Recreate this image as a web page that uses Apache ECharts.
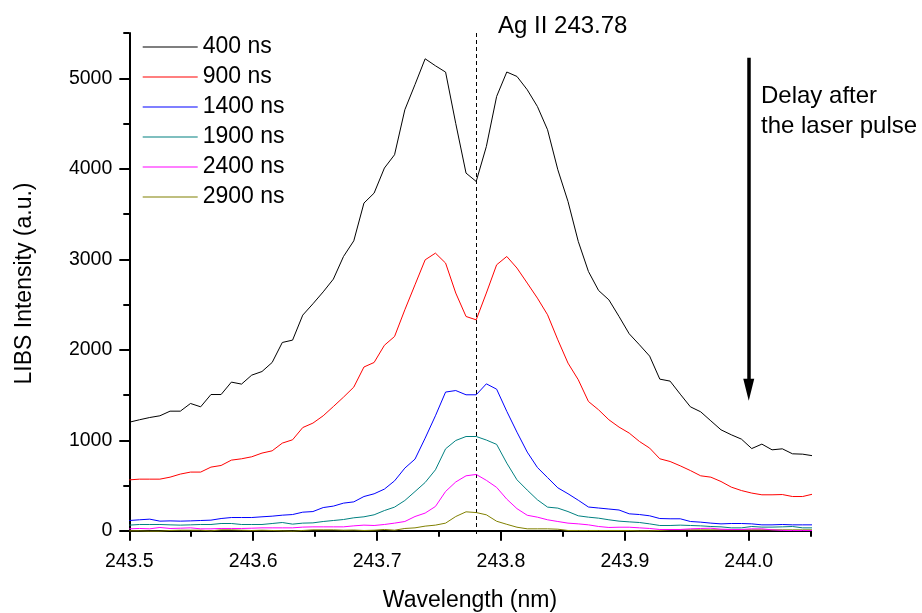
<!DOCTYPE html>
<html>
<head>
<meta charset="utf-8">
<script src="https://cdn.jsdelivr.net/npm/echarts@6/dist/echarts.min.js"></script>
<style>
html,body{margin:0;padding:0;background:#fff;}
#chart{width:922px;height:613px;}
</style>
</head>
<body>
<div id="chart"></div>
<script>
const wavelengths = [
243.5000,243.5082,243.5165,243.5247,243.5329,243.5412,243.5494,243.5576,243.5659,243.5741,
243.5824,243.5906,243.5988,243.6071,243.6153,243.6235,243.6318,243.6400,243.6482,243.6565,
243.6647,243.6729,243.6812,243.6894,243.6976,243.7059,243.7141,243.7224,243.7306,243.7388,
243.7471,243.7553,243.7635,243.7718,243.7800,243.7882,243.7965,243.8047,243.8129,243.8212,
243.8294,243.8376,243.8459,243.8541,243.8624,243.8706,243.8788,243.8871,243.8953,243.9035,
243.9118,243.9200,243.9282,243.9365,243.9447,243.9529,243.9612,243.9694,243.9776,243.9859,
243.9941,244.0024,244.0106,244.0188,244.0271,244.0353,244.0435,244.0518
];
const delays = ['400 ns','900 ns','1400 ns','1900 ns','2400 ns','2900 ns'];
const int400 = [
1200,1227,1252,1271,1322,1322,1407,1370,1506,1506,
1643,1621,1720,1760,1860,2081,2107,2383,2508,2640,
2781,3031,3204,3621,3731,4008,4155,4652,4930,5215,
5138,5068,4500,3952,3860,4246,4799,5069,5020,4873,
4688,4431,3989,3639,3197,2865,2655,2552,2368,2177,
2055,1930,1676,1654,1510,1370,1315,1215,1116,1061,
1013,909,958,895,906,851,847,829
];
const int900 = [
563,571,571,571,593,627,649,649,704,722,
781,796,818,859,884,969,1006,1141,1190,1271,
1373,1477,1588,1810,1860,2050,2147,2442,2718,2994,
3068,2958,2627,2368,2331,2627,2939,3031,2903,2737,
2571,2387,2110,1853,1669,1429,1337,1227,1146,1080,
987,914,796,766,718,666,608,593,545,483,
445,417,398,398,401,379,379,406
];
const int1400 = [
114,122,129,107,110,107,110,114,118,136,
147,147,147,155,162,173,180,206,213,257,
273,306,320,379,409,461,552,693,792,1024,
1271,1533,1550,1503,1503,1624,1565,1320,1090,870,
700,588,475,410,338,263,252,241,230,188,
180,166,136,133,133,103,96,85,77,81,
81,77,66,66,70,66,66,66
];
const int1900 = [
63,70,70,70,66,63,66,70,70,81,
81,70,70,70,81,92,74,85,88,103,
114,125,144,155,177,224,262,335,434,534,
674,906,998,1042,1042,1003,955,748,564,450,
343,262,251,213,166,151,140,122,107,99,
92,77,59,59,63,59,55,48,44,33,
33,48,41,41,44,48,33,33
];
const int2400 = [
22,26,22,37,26,29,33,22,22,26,
26,26,29,33,33,33,33,41,44,44,
44,44,55,63,59,70,85,103,158,196,
269,435,540,608,623,558,480,350,245,172,
151,122,103,85,77,66,48,37,40,40,
33,26,15,15,15,22,26,29,18,15,
15,22,22,11,5,3,3,3
];
const int2900 = [
0,0,-4,-4,4,7,7,7,0,11,
11,7,4,7,4,0,-4,4,11,11,
11,7,9,4,7,15,7,26,33,52,
63,85,158,210,202,177,106,72,40,22,
22,22,18,4,4,4,4,4,4,4,
0,0,4,11,11,11,11,11,11,11,
11,11,11,11,11,11,11,11
];
const xTicks = [243.5,243.6,243.7,243.8,243.9,244.0];
const xMinorTicks = [243.55,243.65,243.75,243.85,243.95,244.05];
const yTicks = [0,1000,2000,3000,4000,5000];
const yMinorTicks = [500,1500,2500,3500,4500,5500];
const lineWavelength = 243.78;
const lineLabel = 'Ag II 243.78';
const arrowX = 244.0;
const arrowFrom = 5227;
const arrowTo = 1560;
const noteLines = ['Delay after', 'the laser pulse'];

const colors = ['#000000','#ff0000','#0000ff','#008080','#ff00ff','#808000'];
const allSeries = [int400,int900,int1400,int1900,int2400,int2900];
const FONT = "'Liberation Sans', Arial, sans-serif";

const chart = echarts.init(document.getElementById('chart'), null, {renderer:'canvas'});

const series = allSeries.map((vals, k) => ({
  name: delays[k],
  type: 'line',
  xAxisIndex: 0,
  yAxisIndex: 0,
  data: wavelengths.map((x, i) => [x, vals[i]]),
  showSymbol: false,
  symbol: 'none',
  lineStyle: {color: colors[k], width: 1},
  itemStyle: {color: colors[k]},
  z: 10 - k,
  silent: true
}));

series[0].markLine = {
  silent: true,
  symbol: ['none','none'],
  label: {show: false},
  lineStyle: {color: '#000', type: [4, 3], width: 1},
  data: [[{coord: [lineWavelength, -35]}, {coord: [lineWavelength, 5500]}]]
};
series[1].markLine = {
  silent: true,
  symbol: ['none','triangle'],
  symbolSize: [11, 22],
  label: {show: false},
  lineStyle: {color: '#000', type: 'solid', width: 3.5},
  itemStyle: {color: '#000'},
  data: [[{coord: [arrowX, arrowFrom]}, {coord: [arrowX, arrowTo]}]]
};

const axisCommon = {
  axisLine: {show: true, lineStyle: {color: '#000', width: 2}},
  splitLine: {show: false}
};

const option = {
  animation: false,
  backgroundColor: '#fff',
  grid: {left: 129.3, right: 111.3, top: 33, bottom: 79, containLabel: false, outerBoundsMode: 'none'},
  legend: {
    orient: 'vertical',
    left: 142.7,
    top: 35,
    padding: 0,
    icon: 'rect',
    itemWidth: 55,
    itemHeight: 1.2,
    itemGap: 6,
    selectedMode: false,
    data: delays,
    textStyle: {fontFamily: FONT, fontSize: 23, color: '#000', lineHeight: 24}
  },
  xAxis: [
    Object.assign({}, axisCommon, {
      type: 'value', min: 243.5, max: 244.05, position: 'bottom',
      name: 'Wavelength (nm)', nameLocation: 'middle', nameGap: 55,
      nameTextStyle: {fontFamily: FONT, fontSize: 23, color: '#000'},
      axisTick: {show: true, customValues: xTicks, length: 10, lineStyle: {color: '#000', width: 2}},
      axisLabel: {customValues: xTicks, formatter: v => v.toFixed(1), margin: 18,
        fontFamily: FONT, fontSize: 19.5, color: '#000'}
    }),
    {
      type: 'value', min: 243.5, max: 244.05, position: 'bottom', gridIndex: 0,
      axisLine: {show: false}, splitLine: {show: false},
      axisTick: {show: true, customValues: xMinorTicks, length: 6, lineStyle: {color: '#000', width: 2}},
      axisLabel: {show: false}
    }
  ],
  yAxis: [
    Object.assign({}, axisCommon, {
      type: 'value', min: -35, max: 5500, position: 'left',
      name: 'LIBS Intensity (a.u.)', nameLocation: 'middle', nameGap: 93, nameRotate: 90,
      nameTextStyle: {fontFamily: FONT, fontSize: 23, color: '#000'},
      axisTick: {show: true, customValues: yTicks, length: 10, lineStyle: {color: '#000', width: 2}},
      axisLabel: {customValues: yTicks, formatter: v => String(v), margin: 17,
        fontFamily: FONT, fontSize: 19.5, color: '#000'}
    }),
    {
      type: 'value', min: -35, max: 5500, position: 'left', gridIndex: 0,
      axisLine: {show: false}, splitLine: {show: false},
      axisTick: {show: true, customValues: yMinorTicks, length: 6, lineStyle: {color: '#000', width: 2}},
      axisLabel: {show: false}
    }
  ],
  graphic: [
    {type: 'text', left: 498, top: 14, silent: true,
      style: {text: lineLabel, font: '24px ' + FONT, fill: '#000'}},
    {type: 'text', left: 761, top: 81, silent: true,
      style: {text: noteLines.join('\n'), font: '24px ' + FONT, fill: '#000', lineHeight: 30}}
  ],
  series: series
};
chart.setOption(option);
</script>
</body>
</html>
